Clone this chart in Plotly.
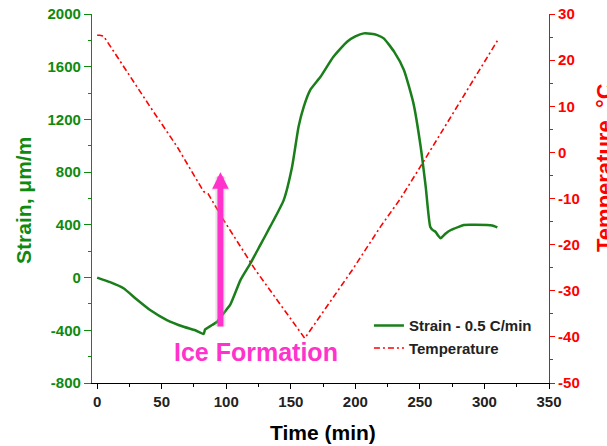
import plotly.graph_objects as go

# ---- data ----
strain_time = [0, 10, 20.4, 30, 41, 54, 67, 76, 82.5, 83.5, 85, 89, 93, 98, 103, 111,
               118.7, 126, 134, 144.5, 151, 156, 160, 165, 173, 183, 193.6, 200, 206.5,
               212, 217, 222, 230, 237.6, 245, 250.6, 254.5, 258, 260, 262, 264, 266,
               270, 274, 280, 284, 293, 302, 306, 310]
strain_vals = [0, -35, -81, -160, -246, -322, -373, -400, -428, -395, -385, -360, -335,
               -270, -208, -19, 108, 240, 386, 588, 841, 1145, 1296, 1423, 1524, 1676,
               1790, 1830, 1853, 1850, 1840, 1815, 1714, 1575, 1322, 993, 689, 386, 360,
               348, 320, 298, 335, 361, 385, 399, 400, 399, 395, 381]

temp_time = [0, 2, 5, 20.4, 41, 62, 82.5, 86, 98, 122.6, 160.8, 197.6, 219.5, 235, 251.9, 310]
temp_vals = [25.4, 25.4, 25.2, 18.6, 9.9, 1.2, -8.5, -9.0, -14.7, -25.5, -40.3, -25.5,
             -16.1, -10.0, -2.4, 24.2]

x_ticks = [0, 50, 100, 150, 200, 250, 300, 350]
y1_ticks = [-800, -400, 0, 400, 800, 1200, 1600, 2000]
y2_ticks = [-50, -40, -30, -20, -10, 0, 10, 20, 30]

GREEN = "#0E8A0E"
LINE_GREEN = "#1A7F1A"
RED = "#FF0000"
MAGENTA = "#FF33CC"
FONT = "Arial, Liberation Sans, sans-serif"

fig = go.Figure()
fig.add_trace(go.Scatter(x=strain_time, y=strain_vals, mode="lines",
                         name="<b>Strain - 0.5 C/min</b>",
                         line=dict(color=LINE_GREEN, width=2.5, shape="spline", smoothing=0.5),
                         yaxis="y"))
fig.add_trace(go.Scatter(x=temp_time, y=temp_vals, mode="lines",
                         name="<b>Temperature</b>",
                         line=dict(color=RED, width=1.6, dash="6px,3px,2px,3px"),
                         yaxis="y2"))

fig.update_layout(
    width=607, height=446,
    margin=dict(l=92, r=58, t=14, b=63, autoexpand=False),
    plot_bgcolor="white", paper_bgcolor="white",
    font=dict(family=FONT, size=15, color="black"),
    showlegend=True,
    legend=dict(x=0.606, y=0.2, xanchor="left", yanchor="top",
                bgcolor="rgba(0,0,0,0)", font=dict(size=15, color="#222"),
                tracegroupgap=0, itemwidth=30),
    xaxis=dict(range=[-4, 350], tickvals=x_ticks, ticktext=[f"<b>{v}</b>" for v in x_ticks],
               showgrid=False, zeroline=False, showline=True, linecolor="black", linewidth=1.2,
               ticks="outside", ticklen=5, tickcolor="black", tickwidth=1.2, automargin=False,
               minor=dict(ticks="outside", dtick=25, ticklen=3, tickcolor="black"),
               tickfont=dict(size=15, color="#222")),
    xaxis2=dict(range=[-4, 350], overlaying="x", side="top", anchor="y",
                tickvals=x_ticks, showticklabels=False, showgrid=False, zeroline=False,
                showline=True, linecolor="#444", linewidth=1.2, automargin=False,
                ticks="inside", ticklen=5, tickcolor="#444",
                minor=dict(ticks="inside", dtick=25, ticklen=3, tickcolor="#444")),
    yaxis=dict(range=[-800, 2000], tickvals=y1_ticks, ticktext=[f"<b>{v}</b>" for v in y1_ticks],
               showgrid=False, zeroline=False, showline=True, linecolor=GREEN, linewidth=1.2,
               ticks="outside", ticklen=7, tickcolor=GREEN, tickwidth=1.2, automargin=False,
               minor=dict(ticks="outside", dtick=200, ticklen=3, tickcolor=GREEN),
               tickfont=dict(size=15, color=GREEN)),
    yaxis2=dict(range=[-50, 30], overlaying="y", side="right", anchor="x",
                tickvals=y2_ticks, ticktext=[f"<b>{v}</b>" for v in y2_ticks],
                showgrid=False, zeroline=False, showline=True, linecolor=RED, linewidth=1.2,
                ticks="outside", ticklen=5, tickcolor=RED, tickwidth=1.2, automargin=False,
                minor=dict(ticks="outside", dtick=5, ticklen=3, tickcolor=RED),
                tickfont=dict(size=15, color=RED)),
)

# axis titles
fig.add_annotation(text="<b>Strain, μm/m</b>", xref="paper", yref="paper",
                   x=-0.149, y=0.496, xanchor="center", yanchor="middle",
                   textangle=-90, showarrow=False,
                   font=dict(size=21, color=GREEN))
fig.add_annotation(text="<b>Temperature  °C</b>", xref="paper", yref="paper",
                   x=1.12, y=0.585, xanchor="center", yanchor="middle",
                   textangle=-90, showarrow=False,
                   font=dict(size=22, color=RED))
fig.add_annotation(text="<b>Time (min)</b>", xref="paper", yref="paper",
                   x=0.505, y=-0.135, xanchor="center", yanchor="middle", showarrow=False,
                   font=dict(size=21, color="black"))

# ice-formation arrow with soft shadow
fig.add_annotation(x=95.5, y=800, ax=95.5, ay=-383, xref="x", yref="y", axref="x", ayref="y",
                   showarrow=True, arrowhead=2, arrowsize=0.36, arrowwidth=10,
                   arrowcolor="rgba(170,170,170,0.3)", text="")
fig.add_annotation(x=95.5, y=800, ax=95.5, ay=-383, xref="x", yref="y", axref="x", ayref="y",
                   showarrow=True, arrowhead=2, arrowsize=0.55, arrowwidth=6,
                   arrowcolor=MAGENTA, text="")
fig.add_annotation(text="<b>Ice Formation</b>", x=122.7, y=-565, xref="x", yref="y",
                   showarrow=False, font=dict(size=25, color=MAGENTA))

fig.write_html("out.html")
